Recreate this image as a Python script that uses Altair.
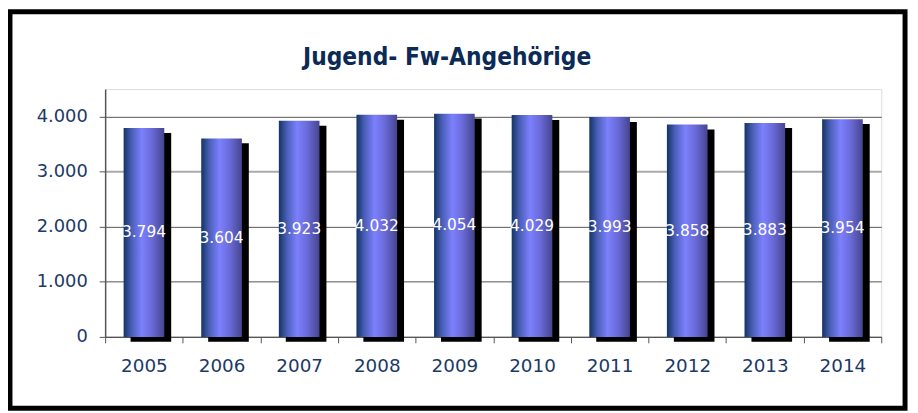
import altair as alt
import pandas as pd

years = ["2005", "2006", "2007", "2008", "2009", "2010", "2011", "2012", "2013", "2014"]
values = [3794, 3604, 3923, 4032, 4054, 4029, 3993, 3858, 3883, 3954]
y_ticks = [0, 1000, 2000, 3000, 4000]
title_text = "Jugend- Fw-Angehörige"

df = pd.DataFrame({"year": years, "v": values})

LABEL_EXPR = "replace(format(datum.value, ','), ',', '.')"

x_enc = alt.X(
    "year:N",
    title=None,
    scale=alt.Scale(paddingInner=0, paddingOuter=0),
    axis=alt.Axis(
        labelAngle=0,
        labelFont="DejaVu Sans",
        labelFontSize=18.5,
        labelColor="#1b3a66",
        labelPadding=14,
        tickBand="extent",
        tickSize=6,
        tickColor="#555555",
        domainColor="#555555",
        domainWidth=1.5,
        grid=False,
    ),
)

y_scale = alt.Scale(domain=[0, 4500], nice=False)

shadow = alt.Chart(df).mark_bar(size=41, color="black", xOffset=7, yOffset=5).encode(
    x=x_enc,
    y=alt.Y(
        "v:Q",
        title=None,
        scale=y_scale,
        axis=alt.Axis(
            values=y_ticks,
            labelExpr=LABEL_EXPR,
            labelFont="DejaVu Sans",
            labelFontSize=18,
            labelColor="#1b3a66",
            labelPadding=12,
            tickSize=6,
            tickColor="#555555",
            domainColor="#555555",
            domainWidth=1.5,
            gridColor=alt.condition("datum.value == 3000", alt.value("#aaaaaa"), alt.value("#555555")),
            gridWidth=alt.condition("datum.value == 3000", alt.value(2), alt.value(1)),
        ),
    ),
)

bars = alt.Chart(df).mark_bar(
    size=41,
    color=alt.Gradient(
        gradient="linear",
        x1=0, x2=1, y1=0, y2=0,
        stops=[
            alt.GradientStop(color="#143464", offset=0),
            alt.GradientStop(color="#4a5fb8", offset=0.2),
            alt.GradientStop(color="#7c80fd", offset=0.45),
            alt.GradientStop(color="#6a6ad8", offset=0.7),
            alt.GradientStop(color="#45458f", offset=1),
        ],
    ),
).encode(x=x_enc, y=alt.Y("v:Q", scale=y_scale))

labels = alt.Chart(df).transform_calculate(
    half="datum.v / 2",
    lab="replace(format(datum.v, ','), ',', '.')",
).mark_text(
    font="DejaVu Sans", fontSize=15.5, color="white", baseline="middle", align="center"
).encode(x=x_enc, y=alt.Y("half:Q", scale=y_scale), text="lab:N")

border = alt.Chart(pd.DataFrame({"a": [0]})).mark_rect(
    fillOpacity=0, stroke="black", strokeWidth=5
).encode(
    x=alt.value(-96), x2=alt.value(807), y=alt.value(-78), y2=alt.value(322)
)

title = alt.Chart(pd.DataFrame({"t": [title_text]})).mark_text(
    font="DejaVu Sans Condensed",
    fontSize=24.5,
    fontWeight="bold",
    color="#0b2a55",
    align="center",
    baseline="alphabetic",
).encode(x=alt.value(345), y=alt.value(-24), text="t:N")

chart = alt.layer(shadow, bars, labels, border, title).properties(
    width=783,
    height=250,
    autosize=alt.AutoSizeParams(type="none"),
    padding={"left": 98, "top": 80, "right": 29, "bottom": 75},
).configure_view(stroke="#888888", strokeWidth=2).configure(background="white")

chart.save("out.html", embed_options={"renderer": "svg", "actions": False})
